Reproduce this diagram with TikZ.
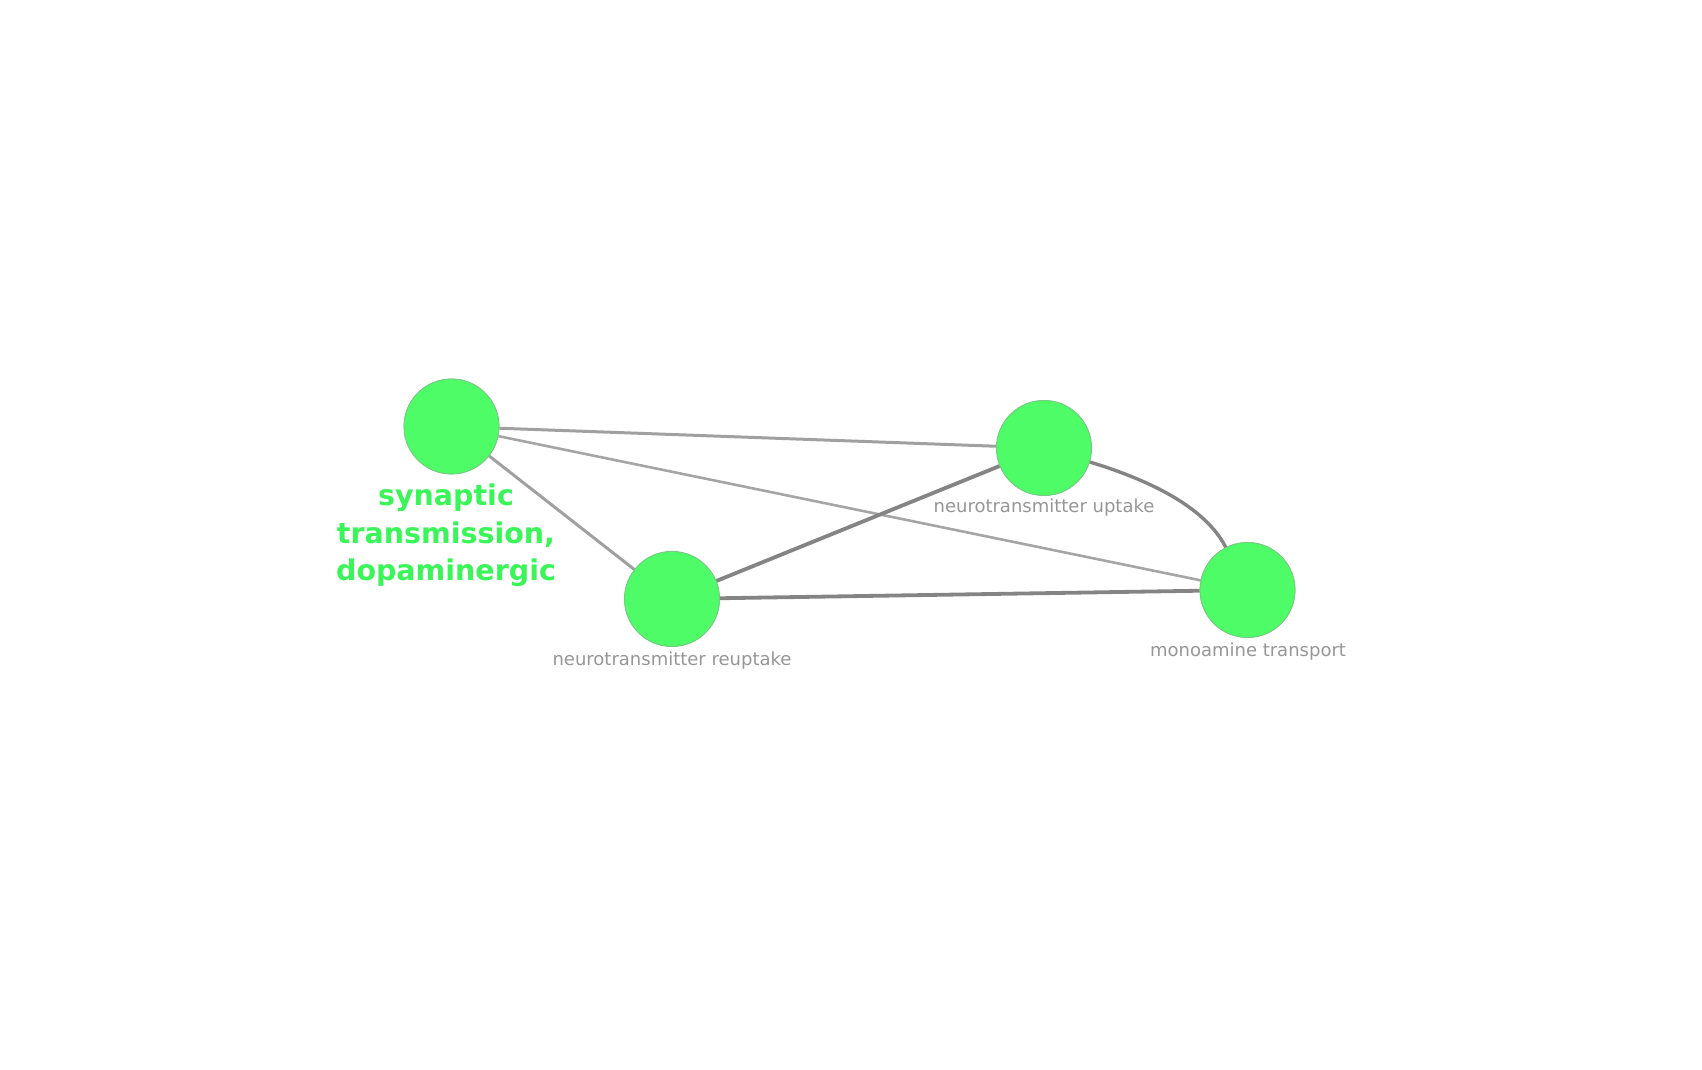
\documentclass[tikz,border=0pt]{standalone}
\usepackage{fontspec}
\newfontfamily\labfont{DejaVu Sans}
\definecolor{nodefill}{RGB}{77,252,102}
\definecolor{nodeedge}{RGB}{120,200,130}
\definecolor{biglab}{RGB}{58,245,88}
\definecolor{smalllab}{RGB}{150,150,150}
\definecolor{edgelight}{RGB}{165,165,165}
\definecolor{edgemid}{RGB}{160,160,160}
\definecolor{edgedark}{RGB}{132,132,132}
\begin{document}
\begin{tikzpicture}[x=1pt,y=1pt,
  term/.style={circle,fill=nodefill,draw=nodeedge,line width=0.8pt,minimum size=95pt,inner sep=0pt},
  smalltext/.style={font=\labfont\fontsize{18}{22}\selectfont,text=smalllab,inner sep=0pt,anchor=base},
  bigtext/.style={font=\labfont\bfseries\fontsize{28.5}{37.5}\selectfont,text=biglab,align=center,inner sep=0pt,anchor=north},
  lightedge/.style={draw=edgelight,line width=2.6pt},
  midedge/.style={draw=edgemid,line width=3pt},
  darkedge/.style={draw=edgedark,line width=3.8pt}]
\useasboundingbox (0,0) rectangle (1702,1070);
\node[term] (syn) at (451.5,643.5) {};
\node[term] (upt) at (1044,622) {};
\node[term] (reu) at (672,471) {};
\node[term] (mon) at (1247.5,480) {};
% edges
\draw[midedge] (syn) -- (upt);
\draw[lightedge] (syn) -- (mon);
\draw[midedge] (syn) -- (reu);
\draw[darkedge] (reu) -- (upt);
\draw[darkedge] (reu) -- (mon);
\draw[darkedge,line width=3.4pt] (upt) to[out=-17,in=117,looseness=0.8] (mon);
% redraw nodes on top
\node[term] at (syn) {};
\node[term] at (upt) {};
\node[term] at (reu) {};
\node[term] at (mon) {};
% labels
\node[bigtext] (synlab) at (446,586) {synaptic\\transmission,\\dopaminergic};
\node[smalltext] (uptlab) at (1044,557) {neurotransmitter uptake};
\node[smalltext] (reulab) at (672,404) {neurotransmitter reuptake};
\node[smalltext] (monlab) at (1248,413) {monoamine transport};
\end{tikzpicture}
\end{document}
